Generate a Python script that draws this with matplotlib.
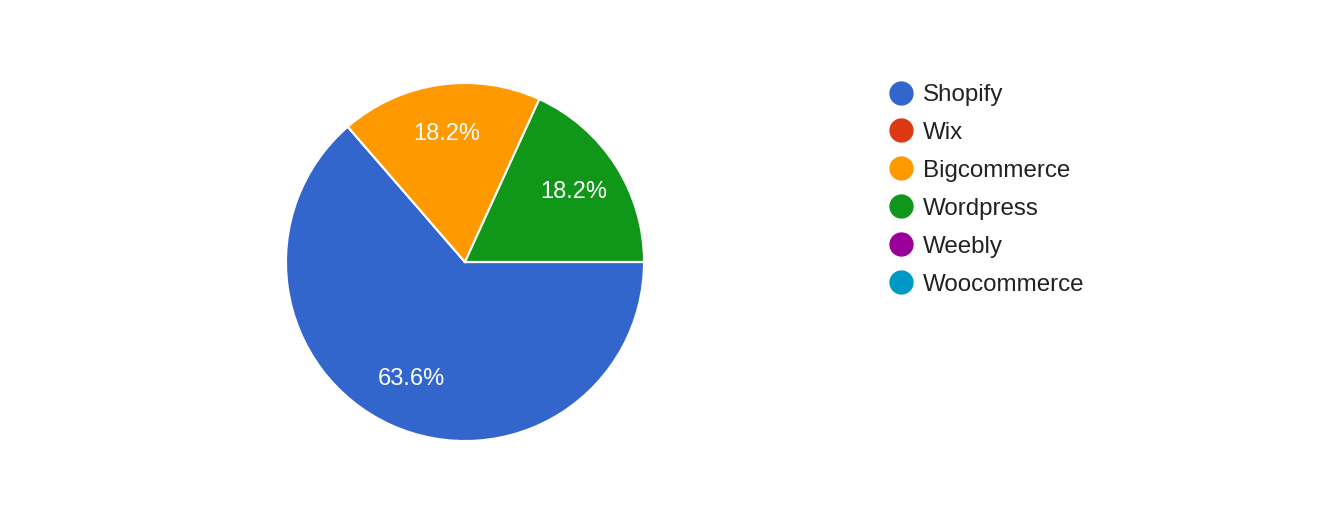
import matplotlib
matplotlib.use("Agg")
import matplotlib.pyplot as plt
from matplotlib.lines import Line2D

categories = ["Shopify", "Wix", "Bigcommerce", "Wordpress", "Weebly", "Woocommerce"]
values = [7, 0, 2, 2, 0, 0]
colors = ["#3366cc", "#dc3912", "#ff9900", "#109618", "#990099", "#0099c6"]

plt.rcParams['font.family'] = ['Liberation Sans', 'DejaVu Sans']

W, H = 1319, 520
fig = plt.figure(figsize=(W / 100, H / 100), dpi=100)
cx, cy, r = 465, 262, 179
ax = fig.add_axes([(cx - r) / W, (H - cy - r) / H, 2 * r / W, 2 * r / H])

def pct(p):
    return f"{p:.1f}%" if p > 0.05 else ""

wedges, texts, autotexts = ax.pie(
    values, colors=colors, startangle=0, counterclock=False,
    autopct=pct, pctdistance=0.72, radius=1,
    wedgeprops=dict(edgecolor="white", linewidth=1.5),
    textprops=dict(color="white", fontsize=17),
)
ax.set_xlim(-1, 1)
ax.set_ylim(-1, 1)
ax.set_aspect("equal")
ax.axis("off")

handles = [Line2D([], [], linestyle="none", marker="o", markersize=16.5,
                  markerfacecolor=c, markeredgecolor=c) for c in colors]
leg = fig.legend(handles, categories, loc="upper left",
                 bbox_to_anchor=(890 / W, 1 - 84 / H), frameon=False,
                 fontsize=17.4, labelspacing=0.66, handlelength=0.95,
                 handletextpad=0.42, borderaxespad=0, borderpad=0)
for t in leg.get_texts():
    t.set_color("#222222")

fig.savefig("out.png", dpi=100, facecolor="white")
